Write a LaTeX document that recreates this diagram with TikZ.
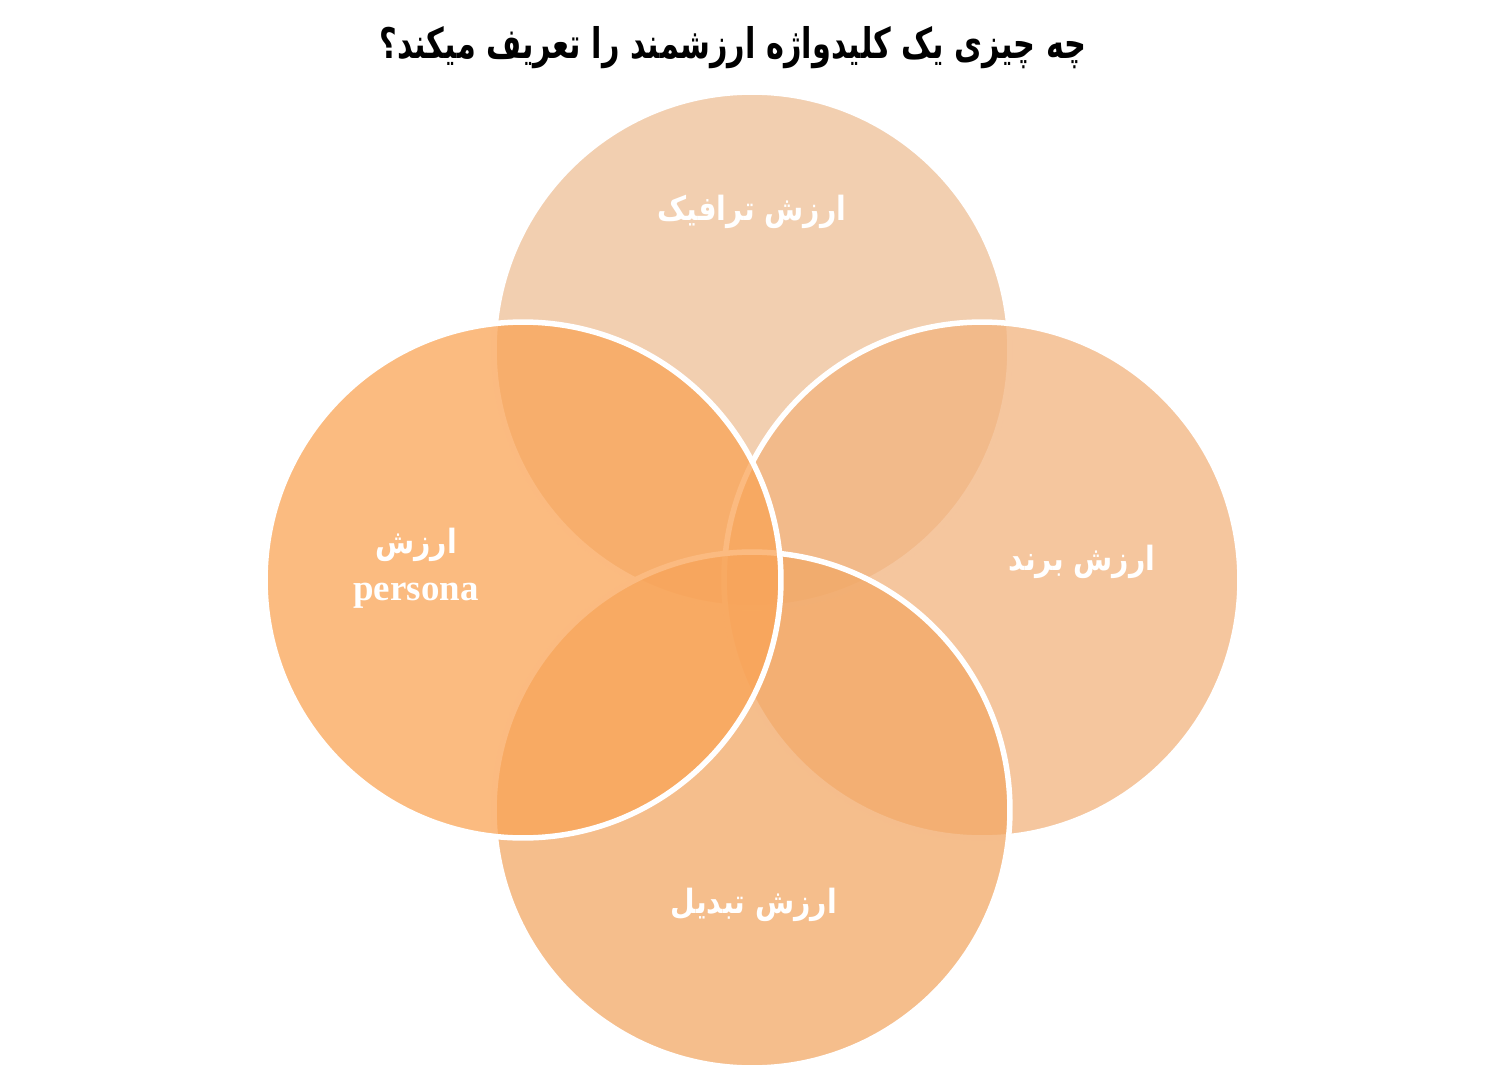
\documentclass[tikz,border=0pt]{standalone}
\usepackage{fontspec}
\newfontfamily\arabicfont[Script=Arabic, FakeStretch=0.85]{DejaVu Sans}
\newfontfamily\titlefont[Script=Arabic, FakeStretch=0.72]{DejaVu Sans}
\newfontfamily\latinfont{Liberation Serif}
\TeXXeTstate=1

\definecolor{trafficcol}{RGB}{238,191,150}
\definecolor{brandcol}{RGB}{242,179,126}
\definecolor{convcol}{RGB}{242,168,102}
\definecolor{personacol}{RGB}{250,164,86}

\tikzset{
  valuecircle/.style={circle, minimum size=10.32cm, inner sep=0pt,
    draw=white, line width=0.11cm, fill opacity=0.75},
  valuelabel/.style={text=white, font=\arabicfont\bfseries\fontsize{19}{23}\selectfont},
}

\begin{document}
\begin{tikzpicture}[x=0.02cm, y=-0.02cm]
		\useasboundingbox (0,0) rectangle (1506,1084);

		% Draw the title
		\node[font=\titlefont\bfseries\fontsize{24}{28}\selectfont] (title) at (733,48)
			{\beginR چه چیزی یک کلیدواژه ارزشمند را تعریف میکند؟\endR};

		% Draw the four circles
		\foreach \name/\x/\y/\col in {traffic/752/350/trafficcol, brand/982/580/brandcol,
				conversion/752/810/convcol, persona/523/580/personacol} {
			\node[valuecircle, fill=\col] (\name) at (\x,\y) {};
		}

		% Add the labels
		\node[valuelabel] (trafficlabel) at (752,212) {\beginR ارزش ترافیک\endR};
		\node[valuelabel] (brandlabel) at (1082,562) {\beginR ارزش برند\endR};
		\node[valuelabel] (conversionlabel) at (754,905) {\beginR ارزش تبدیل\endR};
		\node[valuelabel, align=center] (personalabel) at (416,568)
			{\beginR ارزش\endR\\[4pt] {\latinfont\bfseries\fontsize{21}{24}\selectfont persona}};
	\end{tikzpicture}
\end{document}
